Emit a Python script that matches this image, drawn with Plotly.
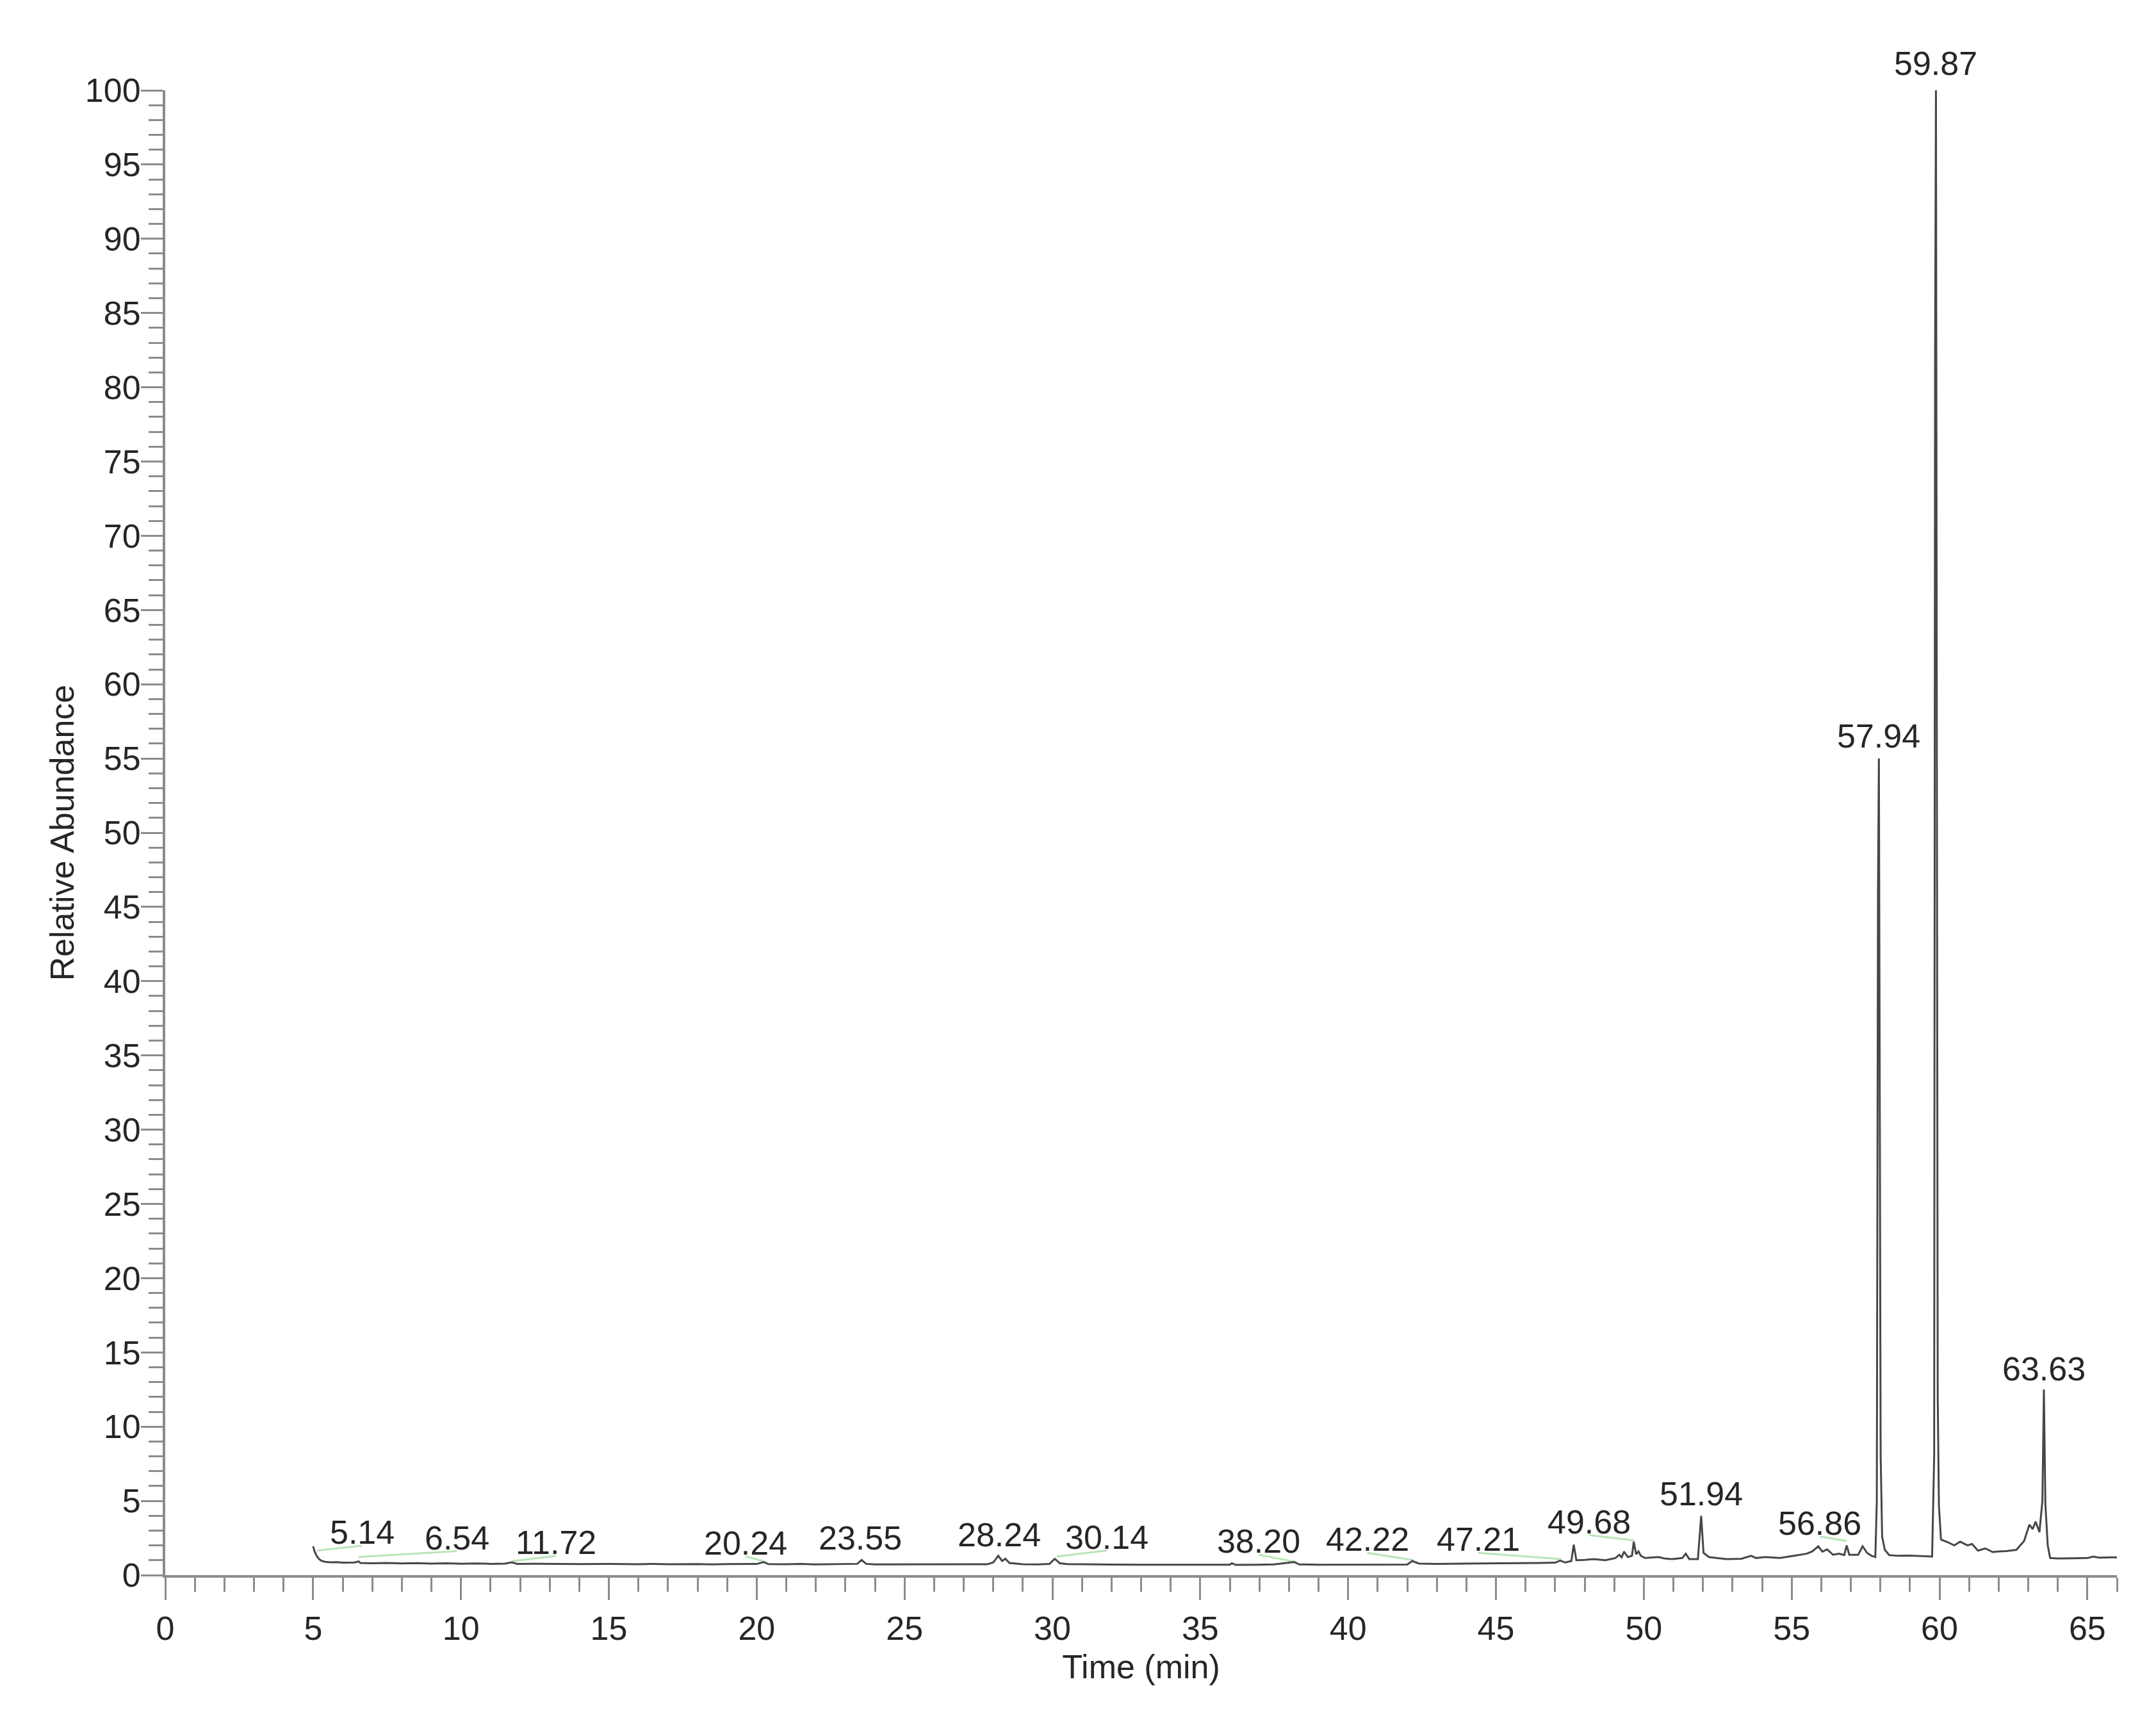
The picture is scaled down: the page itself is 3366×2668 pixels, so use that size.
import plotly.graph_objects as go

# Chromatogram trace (time in min, relative abundance in %)
time_min = [
    5.00, 5.05, 5.12, 5.20, 5.30, 5.45, 5.60, 5.80, 6.00, 6.20, 6.40, 6.54, 6.60,
    7.00, 7.50, 8.00, 8.50, 9.00, 9.50, 10.00, 10.50, 11.00, 11.50, 11.72, 11.90,
    12.50, 13.00, 13.50, 14.00, 15.00, 16.00, 16.50, 17.00, 18.00, 18.50, 19.00,
    19.50, 20.00, 20.24, 20.40, 21.00, 21.50, 22.00, 22.50, 23.00, 23.40, 23.55,
    23.70, 24.00, 25.00, 26.00, 27.00, 27.80, 28.00, 28.17, 28.30, 28.41, 28.55,
    29.00, 29.50, 29.90, 30.08, 30.25, 30.50, 31.00, 32.00, 33.00, 34.00, 35.00,
    36.00, 36.07, 36.20, 37.00, 37.50, 38.18, 38.35, 39.00, 40.00, 41.00, 41.50,
    42.00, 42.17, 42.40, 43.00, 44.00, 45.00, 46.00, 46.50, 47.00, 47.17, 47.35,
    47.55, 47.63, 47.72, 48.00, 48.30, 48.70, 49.04, 49.17, 49.25, 49.33, 49.46,
    49.60, 49.66, 49.74, 49.82, 49.90, 50.04, 50.50, 50.70, 50.96, 51.30, 51.42,
    51.54, 51.83, 51.94, 52.02, 52.20, 52.46, 52.80, 53.30, 53.63, 53.80, 54.10,
    54.60, 55.10, 55.50, 55.70, 55.90, 56.04, 56.20, 56.40, 56.60, 56.78, 56.86,
    56.95, 57.25, 57.40, 57.55, 57.70, 57.83, 57.88, 57.92, 57.95, 57.98, 58.01,
    58.06, 58.15, 58.30, 58.60, 59.00, 59.40, 59.75, 59.82, 59.85, 59.88, 59.91,
    59.94, 59.98, 60.05, 60.30, 60.50, 60.70, 60.95, 61.10, 61.30, 61.55, 61.80,
    62.00, 62.26, 62.60, 62.86, 63.04, 63.15, 63.25, 63.38, 63.48, 63.53, 63.58,
    63.66, 63.74, 64.00, 64.50, 65.00, 65.20, 65.40, 65.80, 66.00,
]
abundance = [
    1.95, 1.60, 1.30, 1.08, 0.95, 0.88, 0.86, 0.87, 0.84, 0.86, 0.85, 0.92, 0.82,
    0.80, 0.82, 0.79, 0.81, 0.78, 0.80, 0.77, 0.79, 0.76, 0.78, 0.86, 0.76,
    0.77, 0.75, 0.76, 0.74, 0.75, 0.73, 0.76, 0.73, 0.74, 0.72, 0.74,
    0.73, 0.75, 0.88, 0.74, 0.73, 0.76, 0.72, 0.74, 0.73, 0.76, 1.02,
    0.76, 0.72, 0.73, 0.71, 0.72, 0.73, 0.85, 1.30, 0.95, 1.10, 0.82,
    0.73, 0.72, 0.75, 1.10, 0.80, 0.74, 0.72, 0.71, 0.70, 0.69, 0.68,
    0.70, 0.80, 0.69, 0.70, 0.72, 0.88, 0.72, 0.70, 0.71, 0.70, 0.72,
    0.71, 0.95, 0.78, 0.76, 0.77, 0.78, 0.79, 0.82, 0.84, 0.98, 0.85,
    0.95, 2.05, 1.00, 1.02, 1.08, 1.00, 1.15, 1.37, 1.20, 1.58, 1.22,
    1.30, 2.25, 1.40, 1.60, 1.30, 1.15, 1.22, 1.12, 1.08, 1.15, 1.44,
    1.08, 1.08, 4.00, 1.50, 1.22, 1.15, 1.08, 1.10, 1.30, 1.15, 1.22,
    1.15, 1.30, 1.44, 1.60, 1.94, 1.58, 1.73, 1.37, 1.44, 1.35, 2.00,
    1.37, 1.37, 1.94, 1.50, 1.30, 1.22, 5.00, 46.0, 55.0, 31.0, 8.00,
    2.60, 1.70, 1.35, 1.30, 1.32, 1.28, 1.25, 8.00, 82.0, 100.0, 53.0,
    12.0, 4.70, 2.40, 2.20, 2.00, 2.25, 2.00, 2.10, 1.65, 1.80, 1.55,
    1.60, 1.62, 1.70, 2.30, 3.40, 3.10, 3.60, 2.90, 5.00, 12.5, 4.80,
    2.00, 1.15, 1.12, 1.13, 1.15, 1.25, 1.18, 1.20, 1.20,
]

# Peak labels: retention time text, where the label sits, and the tip of its green leader
peak_labels = ["5.14", "6.54", "11.72", "20.24", "23.55", "28.24", "30.14", "38.20",
               "42.22", "47.21", "49.68", "51.94", "56.86", "57.94", "59.87", "63.63"]
peak_rt = [5.14, 6.54, 11.72, 20.24, 23.55, 28.24, 30.14, 38.20,
           42.22, 47.21, 49.68, 51.94, 56.86, 57.94, 59.87, 63.63]
label_x = [6.65, 9.86, 13.22, 19.62, 23.50, 28.20, 31.85, 36.98,
           40.65, 44.40, 48.15, 51.94, 55.96, 57.95, 59.87, 63.53]
label_y = [2.88, 2.52, 2.19, 2.16, 2.49, 2.70, 2.56, 2.27,
           2.40, 2.40, 3.60, 5.50, 3.50, 56.5, 101.8, 13.9]
leader_tip = [1.65, 1.22, 0.94, 0.94, None, None, 1.25, 0.90,
              1.00, 1.08, 2.33, None, 2.30, None, None, None]

Y_MAX = 100
FONT = "Arial, Liberation Sans, Helvetica, sans-serif"
AXIS_GREY = "#8c8c8c"
TEXT = "#262626"

fig = go.Figure()

# green leader lines from offset labels down to their peaks
lx, ly = [], []
for rt, x, y, tip in zip(peak_rt, label_x, label_y, leader_tip):
    if tip is None:
        continue
    lx += [x, rt, None]
    ly += [y - 0.9, tip, None]
fig.add_trace(go.Scatter(
    x=lx, y=ly, mode="lines",
    line=dict(color="#b9e4b9", width=3),
    hoverinfo="skip", showlegend=False,
))

fig.add_trace(go.Scatter(
    x=time_min, y=abundance, mode="lines",
    line=dict(color="#474747", width=3),
    hoverinfo="skip", showlegend=False,
))

# peak labels; y in domain units so the 59.87 label can sit above the 100 line
for txt, x, y in zip(peak_labels, label_x, label_y):
    fig.add_annotation(
        x=x, y=y / Y_MAX, xref="x", yref="y domain", text=txt, showarrow=False,
        xanchor="center", yanchor="middle",
        font=dict(family=FONT, size=52, color=TEXT),
    )

# page body has an 8px margin, so the figure is shrunk and shifted to match
fig.update_layout(
    width=3350, height=2652, autosize=False,
    paper_bgcolor="white", plot_bgcolor="white",
    margin=dict(l=250, r=53, t=133, b=201),
    font=dict(family=FONT, size=52, color=TEXT),
    showlegend=False,
)

fig.update_xaxes(
    range=[0, 66], tick0=0, dtick=5,
    ticks="outside", ticklen=35, tickwidth=3, tickcolor=AXIS_GREY,
    minor=dict(dtick=1, ticks="outside", ticklen=22, tickwidth=3, tickcolor=AXIS_GREY),
    showline=True, linecolor=AXIS_GREY, linewidth=4,
    showgrid=False, zeroline=False,
    tickfont=dict(family=FONT, size=52, color=TEXT),
    title=dict(text="Time (min)", standoff=14, font=dict(family=FONT, size=52, color=TEXT)),
    automargin=False,
)
fig.update_yaxes(
    range=[0, Y_MAX], tick0=0, dtick=5,
    ticks="outside", ticklen=34, tickwidth=3, tickcolor=AXIS_GREY,
    minor=dict(dtick=1, ticks="outside", ticklen=22, tickwidth=3, tickcolor=AXIS_GREY),
    showline=True, linecolor=AXIS_GREY, linewidth=4,
    showgrid=False, zeroline=False,
    ticklabelstandoff=-10,
    tickfont=dict(family=FONT, size=52, color=TEXT),
    title=dict(text="Relative Abundance", standoff=2, font=dict(family=FONT, size=52, color=TEXT)),
    automargin=False,
)

fig.write_html("out.html")
